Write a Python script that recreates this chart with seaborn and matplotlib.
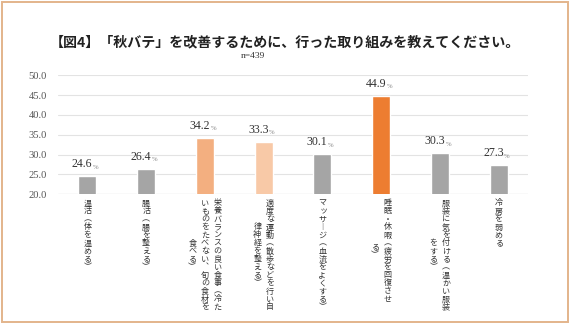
import matplotlib
matplotlib.use("Agg")
import matplotlib.pyplot as plt
import matplotlib.transforms as mtransforms
from matplotlib.patches import Rectangle
import seaborn as sns
import pandas as pd

# ---- data -------------------------------------------------------------
categories = [
    "温活（体を温める）",
    "腸活（腸を整える）",
    "栄養バランスの良い食事（冷た\nいものをたべない、旬の食材を\n食べる）",
    "適度な運動（散歩などを行い自\n律神経を整える）",
    "マッサージ（血流をよくする）",
    "睡眠・休暇（疲労を回復させ\nる）",
    "服装に気を付ける（温かい服装\nをする）",
    "冷房を弱める",
]
values = [24.6, 26.4, 34.2, 33.3, 30.1, 44.9, 30.3, 27.3]
bar_colors = ["#A5A5A5", "#A5A5A5", "#F3AF80", "#F8C9A7",
              "#A5A5A5", "#ED7D31", "#A5A5A5", "#A5A5A5"]
y_ticks = [20.0, 25.0, 30.0, 35.0, 40.0, 45.0, 50.0]
title = "【図4】「秋バテ」を改善するために、行った取り組みを教えてください。"
subtitle = "n=439"

JP = ["Noto Sans CJK JP", "DejaVu Sans"]
NUM = ["Liberation Serif", "DejaVu Serif"]

sns.set_theme(style="white")
plt.rcParams["font.family"] = JP

W, H, DPI = 571, 323, 100
fig = plt.figure(figsize=(W / DPI, H / DPI), dpi=DPI)
fig.patch.set_facecolor("white")

# axes placed in pixel terms
x0, x1, ytop, ybot = 58, 528, 75.3, 194.3
ax = fig.add_axes([x0 / W, 1 - ybot / H, (x1 - x0) / W, (ybot - ytop) / H])

df = pd.DataFrame({"cat": categories, "val": values})
sns.barplot(data=df, x="cat", y="val", hue="cat", palette=bar_colors,
            legend=False, width=0.31, saturation=1, ax=ax)

ax.set_ylim(20, 50)
ax.set_xlim(-0.5, len(categories) - 0.5)
ax.set_yticks(y_ticks)
ax.set_yticklabels([f"{t:.1f}" for t in y_ticks], family=NUM,
                   fontsize=7.6, color="#555555")
ax.set_xticks(range(len(categories)))
ax.set_xticklabels([])
ax.tick_params(axis="both", length=0)
ax.tick_params(axis="y", pad=8)
ax.set_xlabel("")
ax.set_ylabel("")
for s in ax.spines.values():
    s.set_visible(False)
for t in y_ticks[1:]:
    ax.axhline(t, color="#E3E3E3", lw=0.8, zorder=0)
ax.axhline(20, color="#D4D4D4", lw=0.9, zorder=0)

# value labels: number plus a small percent sign
for i, v in enumerate(values):
    ax.annotate(f"{v:.1f}", (i, v), xytext=(5, 6), textcoords="offset pixels",
                ha="right", va="bottom", family=NUM, fontsize=8.6,
                color="#333333")
    ax.annotate("%", (i, v), xytext=(5.5, 6.5), textcoords="offset pixels",
                ha="left", va="bottom", family=NUM, fontsize=4.8,
                color="#8A8A8A")

# vertical (tategaki) category labels, columns read right to left
vertical_forms = {"（": "\ufe35", "）": "\ufe36", "ー": "\ufe31", "、": "\ufe11"}
step = 8.0        # pixel advance per character
col_gap = 12.6    # pixel distance between columns
top_px = 199.0
base = mtransforms.blended_transform_factory(ax.transData, fig.transFigure)
for i, lab in enumerate(categories):
    cols = lab.split("\n")
    n = len(cols)
    maxlen = max(len(c) for c in cols)
    for j, col in enumerate(cols):
        dx = ((n - 1) / 2 - j) * col_gap
        start = top_px + (maxlen - len(col)) / 2 * step
        for k, ch in enumerate(col):
            yc = start + (k + 0.5) * step
            ox = dx + (0.8 if ch in "ッャュョ" else 0.0)
            tr = mtransforms.offset_copy(base, fig=fig, x=ox, y=0, units="dots")
            fig.text(i, 1 - yc / H, vertical_forms.get(ch, ch), transform=tr,
                     ha="center", va="center", fontsize=5.8, color="#333333")

# title block
fig.text(0.499, 1 - 42.7 / H, title, ha="center", va="center",
         fontsize=10.1, color="#222222", fontweight="bold")
fig.text(252.5 / W, 1 - 55.5 / H, subtitle, ha="center", va="center",
         family=NUM, fontsize=6.8, color="#333333")

# outer frame
fig.patches.append(Rectangle((1.5 / W, 1.5 / H), 566.5 / W, 319.5 / H,
                             transform=fig.transFigure, fill=False,
                             edgecolor="#E3B48B", lw=1.4))

fig.savefig("out.png", dpi=DPI)
